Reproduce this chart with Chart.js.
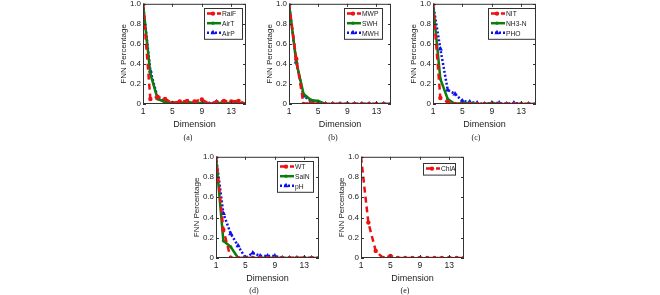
<!DOCTYPE html>
<html>
<head>
<meta charset="utf-8">
<script src="https://cdn.jsdelivr.net/npm/chart.js@4/dist/chart.umd.min.js"></script>
<style>
  body { margin: 0; background: #fff; }
  #wrap { position: relative; width: 660px; height: 295px; overflow: hidden; background: #fff; }
  canvas { position: absolute; }
  .cap { position: absolute; font-family: "Liberation Serif", serif; font-size: 8px; color: #222; transform: translate(-50%, -50%); }
</style>
</head>
<body>
<div id="wrap">
  <canvas id="cA"></canvas>
  <canvas id="cB"></canvas>
  <canvas id="cC"></canvas>
  <canvas id="cD"></canvas>
  <canvas id="cE"></canvas>
  <div class="cap" style="left:188px;top:137px">(a)</div>
  <div class="cap" style="left:333px;top:137px">(b)</div>
  <div class="cap" style="left:476px;top:137px">(c)</div>
  <div class="cap" style="left:254px;top:290px">(d)</div>
  <div class="cap" style="left:405px;top:290px">(e)</div>
</div>
<script>
// dimensions and tick labels
var dims = [1, 2, 3, 4, 5, 6, 7, 8, 9, 10, 11, 12, 13, 14, 15];
var xTicks = [1, 5, 9, 13];
var yTicks = [0, 0.2, 0.4, 0.6, 0.8, 1.0];

// (a)
var raiF = [1, 0.05, 0.07, 0.05, 0.01, 0.025, 0.03, 0.025, 0.045, 0, 0.02, 0.03, 0.025, 0.03, 0];
var airT = [1, 0.30, 0.05, 0.02, 0.01, 0.01, 0.02, 0.01, 0.01, 0, 0.01, 0.01, 0.01, 0.01, 0];
var airP = [1, 0.33, 0.06, 0.03, 0, 0.01, 0.01, 0.01, 0, 0, 0.02, 0.01, 0, 0, 0];
// (b)
var mwp = [1, 0.45, 0, 0.01, 0, 0, 0, 0, 0, 0, 0, 0, 0, 0, 0];
var swh = [1, 0.42, 0.10, 0.04, 0.03, 0, 0, 0, 0, 0, 0, 0, 0, 0, 0];
var mwh = [1, 0.42, 0.08, 0.03, 0, 0, 0, 0, 0, 0, 0, 0, 0, 0, 0];
// (c)
var nit = [1, 0.06, 0.02, 0, 0, 0, 0, 0, 0, 0, 0, 0, 0, 0, 0];
var nh3n = [1, 0.25, 0.05, 0, 0.01, 0.01, 0, 0, 0.01, 0, 0, 0, 0, 0, 0];
var pho = [1, 0.55, 0.14, 0.10, 0.03, 0.02, 0.01, 0, 0.01, 0.01, 0, 0.01, 0, 0, 0];
// (d)
var wt = [1, 0.28, 0, 0, 0, 0, 0, 0, 0, 0, 0, 0, 0, 0, 0];
var salN = [1, 0.17, 0.11, 0, 0, 0, 0, 0, 0, 0, 0, 0, 0, 0, 0];
var pH = [1, 0.44, 0.24, 0.12, 0, 0.05, 0.02, 0.02, 0.02, 0, 0, 0, 0, 0, 0];
// (e)
var chlA = [1, 0.35, 0.07, 0, 0.02, 0, 0, 0, 0, 0, 0, 0, 0, 0, 0];

var RED = '#ee1111', GREEN = '#0a7d0a', BLUE = '#1010ee';
var FONT = '"Liberation Sans", Arial, sans-serif';

function pts(vals) {
    return dims.map(function(d, i) { return {x: d, y: vals[i]}; });
}

function redSet(label, vals) {
    return { label: label, data: pts(vals), borderColor: RED, backgroundColor: RED,
        borderWidth: 2.5, borderDash: [6, 4], pointStyle: 'circle', pointRadius: 2.2, pointBorderWidth: 0 };
}
function greenSet(label, vals) {
    return { label: label, data: pts(vals), borderColor: GREEN, backgroundColor: GREEN,
        borderWidth: 2.5, pointStyle: 'circle', pointRadius: 1.6, pointBorderWidth: 0 };
}
function blueSet(label, vals) {
    return { label: label, data: pts(vals), borderColor: BLUE, backgroundColor: BLUE,
        borderWidth: 2.5, borderDash: [2, 2], pointStyle: 'triangle', pointRadius: 3, pointBorderWidth: 0 };
}

// frame + inward ticks, like matlab axes
var boxPlugin = {
    id: 'boxTicks',
    afterDraw: function(chart) {
        var ctx = chart.ctx, a = chart.chartArea;
        var xs = chart.scales.x, ys = chart.scales.y;
        ctx.save();
        ctx.strokeStyle = '#333';
        ctx.lineWidth = 1;
        ctx.setLineDash([]);
        ctx.strokeRect(a.left + 0.5, a.top + 0.5, a.right - a.left - 1, a.bottom - a.top - 1);
        ctx.beginPath();
        xTicks.forEach(function(v) {
            var px = Math.round(xs.getPixelForValue(v)) + 0.5;
            ctx.moveTo(px, a.bottom); ctx.lineTo(px, a.bottom - 3);
            ctx.moveTo(px, a.top); ctx.lineTo(px, a.top + 3);
        });
        yTicks.forEach(function(v) {
            var py = Math.round(ys.getPixelForValue(v)) + 0.5;
            ctx.moveTo(a.left, py); ctx.lineTo(a.left + 3, py);
            ctx.moveTo(a.right, py); ctx.lineTo(a.right - 3, py);
        });
        ctx.stroke();
        ctx.restore();
    }
};

// legend box inside the axes
var innerLegend = {
    id: 'innerLegend',
    afterDraw: function(chart) {
        var o = chart.options.plugins.innerLegend;
        var ctx = chart.ctx, a = chart.chartArea;
        var sets = chart.data.datasets;
        var rowH = 9.6;
        var bw = o.width, bh = sets.length * rowH + 2;
        var bx = a.right - o.right - bw, by = a.top + o.top;
        ctx.save();
        ctx.fillStyle = '#fff';
        ctx.fillRect(bx, by, bw, bh);
        ctx.strokeStyle = '#333';
        ctx.lineWidth = 1;
        ctx.strokeRect(Math.round(bx) + 0.5, Math.round(by) + 0.5, bw, bh);
        sets.forEach(function(ds, i) {
            var cy = by + 1 + rowH * (i + 0.5);
            ctx.strokeStyle = ds.borderColor;
            ctx.lineWidth = 2.5;
            ctx.setLineDash(ds.borderDash || []);
            ctx.beginPath();
            ctx.moveTo(bx + 3, cy);
            ctx.lineTo(bx + 17, cy);
            ctx.stroke();
            ctx.setLineDash([]);
            ctx.fillStyle = ds.backgroundColor;
            Chart.helpers.drawPoint(ctx, {pointStyle: ds.pointStyle, radius: ds.pointRadius, borderWidth: 0},
                bx + 9, cy);
            // narrow text, the source figure is squeezed sideways
            ctx.fillStyle = '#222';
            ctx.font = '8px ' + FONT;
            ctx.textBaseline = 'middle';
            ctx.textAlign = 'left';
            ctx.save();
            ctx.translate(bx + 18, cy + 0.5);
            ctx.scale(0.84, 1);
            ctx.fillText(ds.label, 0, 0);
            ctx.restore();
        });
        ctx.restore();
    }
};

function makeChart(id, box, legendPos, datasets) {
    var canvas = document.getElementById(id);
    var w = box[1] - box[0] + 32 + 6;
    var h = box[3] - box[2] + 6 + 28 + 2;
    canvas.width = w; canvas.height = h;
    canvas.style.left = (box[0] - 32) + 'px';
    canvas.style.top = (box[2] - 6) + 'px';
    canvas.style.width = w + 'px';
    canvas.style.height = h + 'px';
    return new Chart(canvas.getContext('2d'), {
        type: 'line',
        data: { datasets: datasets },
        options: {
            responsive: false,
            animation: false,
            layout: { autoPadding: false, padding: { left: 0, top: 6, right: 6, bottom: 2 } },
            plugins: {
                legend: { display: false },
                tooltip: { enabled: false },
                innerLegend: legendPos
            },
            elements: { line: { tension: 0 } },
            scales: {
                x: {
                    type: 'linear', min: 1, max: 15,
                    grid: { display: false, drawTicks: false },
                    border: { display: false },
                    afterBuildTicks: function(s) { s.ticks = xTicks.map(function(v) { return {value: v}; }); },
                    afterFit: function(s) { s.height = 28; },
                    ticks: { padding: 3, color: '#222', font: { family: FONT, size: 8.5 },
                        callback: function(v) { return String(v); } },
                    title: { display: true, text: 'Dimension', color: '#222',
                        font: { family: FONT, size: 9 }, padding: { top: 0, bottom: 2 } }
                },
                y: {
                    min: 0, max: 1,
                    grid: { display: false, drawTicks: false },
                    border: { display: false },
                    afterBuildTicks: function(s) { s.ticks = yTicks.map(function(v) { return {value: v}; }); },
                    afterFit: function(s) { s.width = 32; },
                    ticks: { padding: 2, color: '#222', font: { family: FONT, size: 8 },
                        callback: function(v) { return v === 0 ? '0' : v.toFixed(1); } },
                    title: { display: true, text: 'FNN Percentage', color: '#222',
                        font: { family: FONT, size: 8 }, padding: { top: 8, bottom: 0 } }
                }
            }
        },
        plugins: [boxPlugin, innerLegend]
    });
}

makeChart('cA', [143, 246, 3, 104], {right: 4, top: 4, width: 38},
    [redSet('RaiF', raiF), greenSet('AirT', airT), blueSet('AirP', airP)]);
makeChart('cB', [289, 391, 3, 104], {right: 9, top: 4, width: 38},
    [redSet('MWP', mwp), greenSet('SWH', swh), blueSet('MWH', mwh)]);
makeChart('cC', [433, 536, 3, 104], {right: 1, top: 4, width: 47},
    [redSet('NIT', nit), greenSet('NH3-N', nh3n), blueSet('PHO', pho)]);
makeChart('cD', [216, 319, 156, 258], {right: 6, top: 4, width: 36},
    [redSet('WT', wt), greenSet('SalN', salN), blueSet('pH', pH)]);
makeChart('cE', [361, 464, 156, 258], {right: 9, top: 6, width: 32},
    [redSet('ChlA', chlA)]);
</script>
</body>
</html>
